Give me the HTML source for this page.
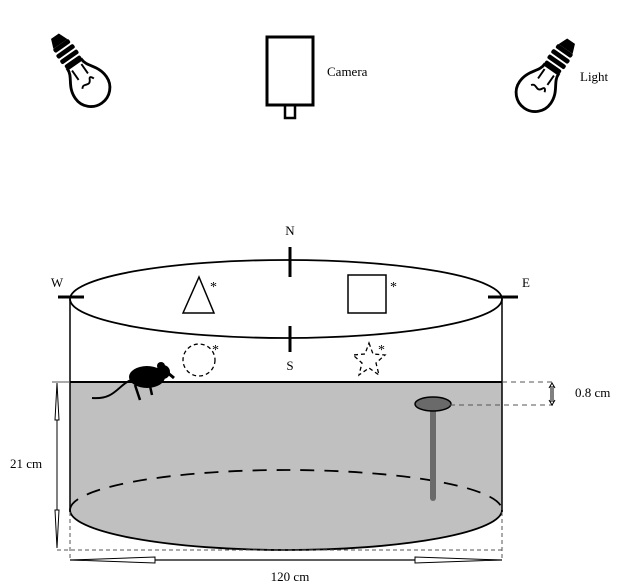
<!DOCTYPE html>
<html><head><style>body{margin:0;background:#fff}svg{display:block}text{font-family:"Liberation Serif",serif;fill:#000}</style></head>
<body>
<svg width="631" height="588" viewBox="0 0 631 588" xmlns="http://www.w3.org/2000/svg">
<defs>
<g id="bulb">
<path d="M-5,-46 L5,-46 L9,-36 L-9,-36 Z" fill="#000"/>
<rect x="-10" y="-36" width="20" height="5" rx="2" fill="#000"/>
<rect x="-11" y="-29" width="22" height="5" rx="2" fill="#000"/>
<rect x="-11" y="-22" width="22" height="5" rx="2" fill="#000"/>
<rect x="-10" y="-15" width="20" height="4" rx="2" fill="#000"/>
<path d="M-9,-10 C-9,0 -20,5 -20,20 A20,20 0 0 0 20,20 C20,5 9,0 9,-10 Z" fill="#fff" stroke="#000" stroke-width="3"/>
<path d="M-6,-6 L-6,6 M6,-6 L6,6 M-8,16 C-4,10 0,20 4,12 C6,8 8,14 8,14" fill="none" stroke="#000" stroke-width="2"/>
</g>
</defs>
<use href="#bulb" transform="translate(80,72) rotate(-35) scale(0.95)"/>
<use href="#bulb" transform="translate(546,77) rotate(35) scale(0.95)"/>
<rect x="267" y="37" width="46" height="68" fill="none" stroke="#000" stroke-width="3"/>
<rect x="285" y="105" width="10" height="13" fill="none" stroke="#000" stroke-width="2.5"/>
<text x="327" y="76" font-size="13">Camera</text>
<text x="580" y="81" font-size="13">Light</text>

<path d="M70,382 L502,382 L502,510 A216,40 0 0 1 70,510 Z" fill="#c0c0c0"/>
<line x1="70" y1="382" x2="502" y2="382" stroke="#000" stroke-width="2"/>
<line x1="70" y1="299" x2="70" y2="512" stroke="#000" stroke-width="1.5"/>
<line x1="502" y1="299" x2="502" y2="512" stroke="#000" stroke-width="1.5"/>
<path d="M70,510 A216,40 0 0 0 502,510" fill="none" stroke="#000" stroke-width="1.8"/>
<path d="M70,510 A216,40 0 0 1 502,510" fill="none" stroke="#000" stroke-width="1.8" stroke-dasharray="14,10"/>
<ellipse cx="286" cy="299" rx="216" ry="39" fill="none" stroke="#000" stroke-width="1.8"/>
<line x1="58" y1="297" x2="84" y2="297" stroke="#000" stroke-width="3"/>
<line x1="488" y1="297" x2="518" y2="297" stroke="#000" stroke-width="3"/>
<line x1="290" y1="247" x2="290" y2="277" stroke="#000" stroke-width="3"/>
<line x1="290" y1="326" x2="290" y2="352" stroke="#000" stroke-width="3"/>
<text x="290" y="235" font-size="13" text-anchor="middle">N</text>
<text x="290" y="370" font-size="13" text-anchor="middle">S</text>
<text x="57" y="287" font-size="13" text-anchor="middle">W</text>
<text x="526" y="287" font-size="13" text-anchor="middle">E</text>
<polygon points="183,313 199,277 214,313" fill="none" stroke="#000" stroke-width="1.5"/>
<text x="210" y="291" font-size="14">*</text>
<rect x="348" y="275" width="38" height="38" fill="none" stroke="#000" stroke-width="1.5"/>
<text x="390" y="291" font-size="14">*</text>
<circle cx="199" cy="360" r="16" fill="none" stroke="#000" stroke-width="1.3" stroke-dasharray="4,3"/>
<text x="212" y="354" font-size="14">*</text>
<polygon points="369,343 373,354 385,355 376,363 379,375 369,368 359,375 362,363 353,355 365,354" fill="none" stroke="#000" stroke-width="1.3" stroke-dasharray="4,3"/>
<text x="378" y="354" font-size="14">*</text>
<ellipse cx="147" cy="377" rx="18" ry="11" fill="#000"/>
<circle cx="163" cy="372" r="7" fill="#000"/>
<circle cx="161" cy="366" r="4" fill="#000"/>
<path d="M168,373 L174,378" stroke="#000" stroke-width="3"/>
<path d="M135,385 L140,400 M150,386 L152,395" stroke="#000" stroke-width="2.5"/>
<path d="M131,380 C118,385 115,400 92,398" fill="none" stroke="#000" stroke-width="2"/>
<rect x="430" y="405" width="6" height="96" rx="3" fill="#6a6a6a"/>
<ellipse cx="433" cy="404" rx="18" ry="7" fill="#6a6a6a" stroke="#000" stroke-width="1.5"/>
<line x1="502" y1="382" x2="553" y2="382" stroke="#555" stroke-dasharray="5,4"/>
<line x1="450" y1="405" x2="553" y2="405" stroke="#555" stroke-dasharray="5,4"/>
<path d="M551,386 L551,402 M553,386 L553,402 M549,388 L552,383 L555,388 M549,400 L552,405 L555,400" stroke="#000" fill="none" stroke-width="1"/>
<text x="575" y="397" font-size="13">0.8 cm</text>
<line x1="52" y1="382" x2="70" y2="382" stroke="#555"/>
<path d="M57,383 L55,420 L59,420 Z M57,548 L55,510 L59,510 Z" fill="#fff" stroke="#000"/>
<line x1="57" y1="420" x2="57" y2="510" stroke="#000"/>
<text x="10" y="468" font-size="13">21 cm</text>
<line x1="57" y1="550" x2="502" y2="550" stroke="#555" stroke-dasharray="4,3"/>
<line x1="70" y1="512" x2="70" y2="560" stroke="#555" stroke-dasharray="4,3"/>
<line x1="502" y1="512" x2="502" y2="560" stroke="#555" stroke-dasharray="4,3"/>
<line x1="70" y1="560" x2="502" y2="560" stroke="#000" stroke-width="1.2"/>
<path d="M72,560 L155,557 L155,563 Z M500,560 L415,557 L415,563 Z" fill="#fff" stroke="#000"/>
<text x="290" y="581" font-size="13" text-anchor="middle">120 cm</text>
</svg>
</body></html>
